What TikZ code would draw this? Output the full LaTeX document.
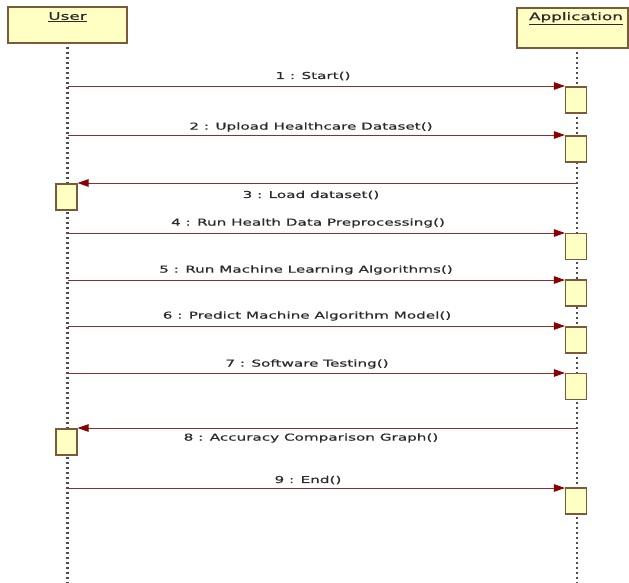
\documentclass[tikz,border=0pt]{standalone}
\usepackage{fontspec}
\setmainfont[FakeStretch=1.6,FakeBold=0.6]{DejaVu Sans}
\usetikzlibrary{arrows.meta}
\definecolor{boxfill}{HTML}{FFFFC4}
\definecolor{boxline}{HTML}{7A5A3A}
\definecolor{msg}{HTML}{8A3030}
\definecolor{head}{HTML}{8B0000}
\definecolor{txt}{HTML}{2A2A2A}
\begin{document}
\begin{tikzpicture}[x=1pt,y=-1pt,
  actor/.style={draw=boxline, fill=boxfill, line width=1.3pt, inner sep=0pt},
  actlbl/.style={font=\fontsize{10.5}{12}\selectfont, text=txt, anchor=north, inner sep=0pt},
  act/.style={draw=boxline, fill=boxfill, line width=1.1pt, minimum width=21pt, minimum height=26pt, inner sep=0pt},
  life/.style={draw=black!70, line width=2.2pt, dash pattern=on 2pt off 3pt},
  msgline/.style={draw=msg, line width=0.9pt, -{Triangle[length=11pt,width=7.5pt,fill=head,color=head]}},
  lbl/.style={font=\fontsize{9.5}{11}\selectfont, text=txt, inner sep=0pt}
]
\useasboundingbox (0,0) rectangle (629,583);
% actors
\node[actor, minimum width=119pt, minimum height=36pt] (user) at (67.5,25) {};
\node[actlbl] (userlbl) at (67.5,12) {\underline{User}};
\node[actor, minimum width=111pt, minimum height=40pt] (app) at (572.5,28) {};
\node[actlbl] (applbl) at (576,12) {\underline{Application}};
% lifelines
\coordinate (uend) at (67.5,583);
\coordinate (aend) at (577,583);
\draw[life] ([yshift=-3pt]user.south) -- (uend);
\draw[life] ([yshift=-3pt]app.south -| aend) -- (aend);
% activations
\node[act] (a1) at (576,100) {};
\node[act] (a2) at (576,149) {};
\node[act] (u3) at (66.5,197) {};
\node[act] (a4) at (576,246.5) {};
\node[act] (a5) at (576,293) {};
\node[act] (a6) at (576,340) {};
\node[act] (a7) at (576,386.5) {};
\node[act] (u8) at (66.5,442) {};
\node[act] (a9) at (576,501) {};
% message start points
\coordinate (s1) at (67.5,86);
\coordinate (s2) at (67.5,135);
\coordinate (s3) at (577,183);
\coordinate (s4) at (67.5,233);
\coordinate (s5) at (67.5,280);
\coordinate (s6) at (67.5,326);
\coordinate (s7) at (67.5,373);
\coordinate (s8) at (577,428);
\coordinate (s9) at (67.5,488);
% messages
\draw[msgline] (s1) -- (s1 -| a1.west);
\draw[msgline] (s2) -- (s2 -| a2.west);
\draw[msgline] (s3) -- (s3 -| u3.east);
\draw[msgline] (s4) -- (s4 -| a4.west);
\draw[msgline] (s5) -- (s5 -| a5.west);
\draw[msgline] (s6) -- (s6 -| a6.west);
\draw[msgline] (s7) -- (s7 -| a7.west);
\draw[msgline] (s8) -- (s8 -| u8.east);
\draw[msgline] (s9) -- (s9 -| a9.west);
% labels
\node[lbl] (l1) at (313,76) {1 : Start()};
\node[lbl] (l2) at (311,127) {2 : Upload Healthcare Dataset()};
\node[lbl] (l3) at (311,195) {3 : Load dataset()};
\node[lbl] (l4) at (308,223) {4 : Run Health Data Preprocessing()};
\node[lbl] (l5) at (306,270) {5 : Run Machine Learning Algorithms()};
\node[lbl] (l6) at (307,316) {6 : Predict Machine Algorithm Model()};
\node[lbl] (l7) at (307,364) {7 : Software Testing()};
\node[lbl] (l8) at (311,438) {8 : Accuracy Comparison Graph()};
\node[lbl] (l9) at (308,480) {9 : End()};
\end{tikzpicture}
\end{document}
